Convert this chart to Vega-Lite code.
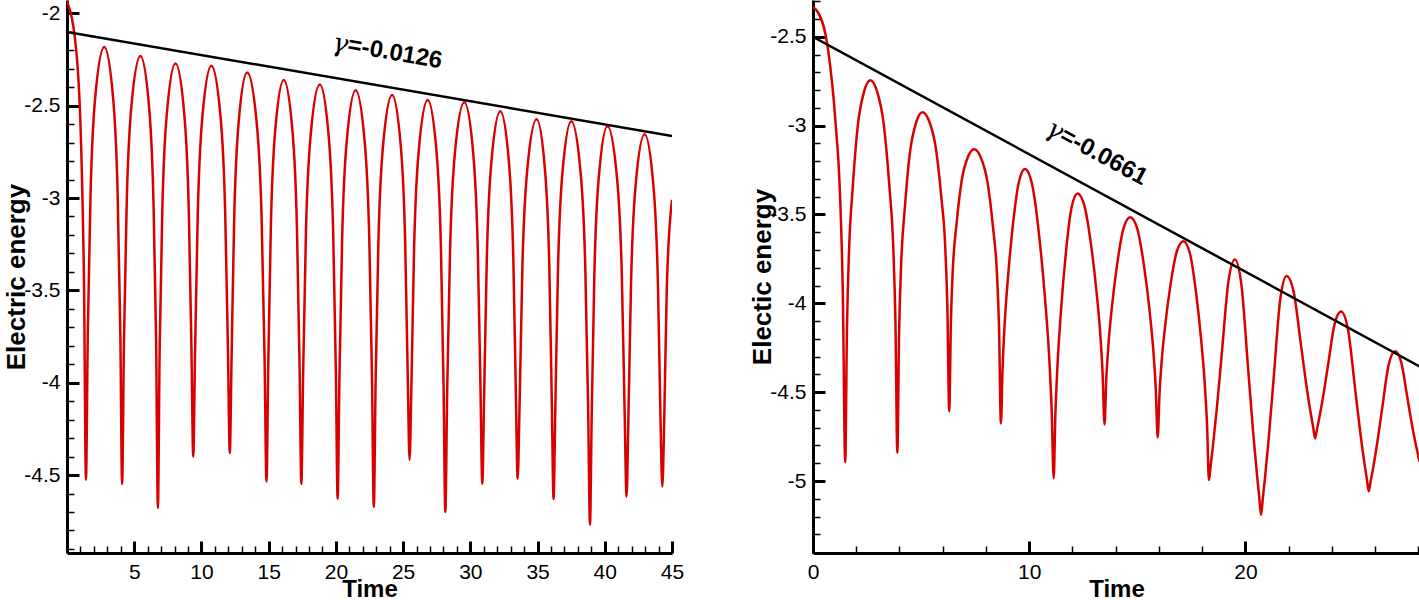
{
  "$schema": "https://vega.github.io/schema/vega-lite/v6.json",
  "padding": {"left": 3, "top": 0, "right": 0, "bottom": 0},
  "background": "white",
  "spacing": 65,
  "config": {
    "view": {"stroke": null},
    "font": "Liberation Sans",
    "axis": {
      "domainColor": "black", "domainWidth": 3, "tickColor": "black",
      "labelColor": "black", "labelFont": "Liberation Sans", "labelFontSize": 21,
      "titleFont": "Liberation Sans", "titleFontSize": 26, "titleFontWeight": "bold", "titleColor": "black",
      "grid": false, "labelOverlap": false, "labelFlush": false, "labelBound": false
    },
    "axisX": {"titleFontSize": 24}
  },
  "datasets": {
    "left": [
      {"t":0,"e":-1.935},{"t":0.705,"e":-2.215},{"t":1.058,"e":-2.735},{"t":1.269,"e":-3.485},{"t":1.41,"e":-4.525},
      {"t":1.546,"e":-3.732},{"t":1.75,"e":-2.982},{"t":2.09,"e":-2.462},{"t":2.77,"e":-2.182},
      {"t":3.435,"e":-2.462},{"t":3.768,"e":-2.982},{"t":3.967,"e":-3.732},{"t":4.10,"e":-4.549},
      {"t":4.236,"e":-3.781},{"t":4.44,"e":-3.031},{"t":4.78,"e":-2.511},{"t":5.46,"e":-2.231},
      {"t":6.11,"e":-2.511},{"t":6.435,"e":-3.031},{"t":6.63,"e":-3.781},{"t":6.76,"e":-4.679},
      {"t":6.891,"e":-3.822},{"t":7.087,"e":-3.072},{"t":7.415,"e":-2.552},{"t":8.07,"e":-2.272},
      {"t":8.73,"e":-2.552},{"t":9.06,"e":-3.072},{"t":9.258,"e":-3.822},{"t":9.39,"e":-4.399},
      {"t":9.525,"e":-3.834},{"t":9.727,"e":-3.084},{"t":10.065,"e":-2.564},{"t":10.74,"e":-2.284},
      {"t":11.425,"e":-2.564},{"t":11.768,"e":-3.084},{"t":11.973,"e":-3.834},{"t":12.11,"e":-4.381},
      {"t":12.239,"e":-3.871},{"t":12.432,"e":-3.121},{"t":12.755,"e":-2.601},{"t":13.40,"e":-2.321},
      {"t":14.12,"e":-2.601},{"t":14.48,"e":-3.121},{"t":14.696,"e":-3.871},{"t":14.84,"e":-4.535},
      {"t":14.968,"e":-3.911},{"t":15.16,"e":-3.161},{"t":15.48,"e":-2.641},{"t":16.12,"e":-2.361},
      {"t":16.775,"e":-2.641},{"t":17.103,"e":-3.161},{"t":17.299,"e":-3.911},{"t":17.43,"e":-4.549},
      {"t":17.567,"e":-3.936},{"t":17.772,"e":-3.186},{"t":18.115,"e":-2.666},{"t":18.80,"e":-2.386},
      {"t":19.465,"e":-2.666},{"t":19.798,"e":-3.186},{"t":19.997,"e":-3.936},{"t":20.13,"e":-4.628},
      {"t":20.264,"e":-3.967},{"t":20.465,"e":-3.217},{"t":20.80,"e":-2.697},{"t":21.47,"e":-2.417},
      {"t":22.145,"e":-2.697},{"t":22.483,"e":-3.217},{"t":22.685,"e":-3.967},{"t":22.82,"e":-4.673},
      {"t":22.956,"e":-3.992},{"t":23.16,"e":-3.242},{"t":23.50,"e":-2.722},{"t":24.18,"e":-2.442},
      {"t":24.83,"e":-2.722},{"t":25.155,"e":-3.242},{"t":25.35,"e":-3.992},{"t":25.48,"e":-4.417},
      {"t":25.615,"e":-4.02},{"t":25.817,"e":-3.27},{"t":26.155,"e":-2.75},{"t":26.83,"e":-2.47},
      {"t":27.485,"e":-2.75},{"t":27.813,"e":-3.27},{"t":28.009,"e":-4.02},{"t":28.14,"e":-4.70},
      {"t":28.281,"e":-4.032},{"t":28.492,"e":-3.282},{"t":28.845,"e":-2.762},{"t":29.55,"e":-2.482},
      {"t":30.22,"e":-2.762},{"t":30.555,"e":-3.282},{"t":30.756,"e":-4.032},{"t":30.89,"e":-4.547},
      {"t":31.024,"e":-4.08},{"t":31.225,"e":-3.33},{"t":31.56,"e":-2.81},{"t":32.23,"e":-2.53},
      {"t":32.875,"e":-2.81},{"t":33.198,"e":-3.33},{"t":33.391,"e":-4.08},{"t":33.52,"e":-4.52},
      {"t":33.661,"e":-4.124},{"t":33.872,"e":-3.374},{"t":34.225,"e":-2.854},{"t":34.93,"e":-2.574},
      {"t":35.56,"e":-2.854},{"t":35.875,"e":-3.374},{"t":36.064,"e":-4.124},{"t":36.19,"e":-4.63},
      {"t":36.322,"e":-4.134},{"t":36.52,"e":-3.384},{"t":36.85,"e":-2.864},{"t":37.51,"e":-2.584},
      {"t":38.205,"e":-2.864},{"t":38.553,"e":-3.384},{"t":38.761,"e":-4.134},{"t":38.90,"e":-4.769},
      {"t":39.03,"e":-4.161},{"t":39.225,"e":-3.411},{"t":39.55,"e":-2.891},{"t":40.20,"e":-2.611},
      {"t":40.91,"e":-2.891},{"t":41.265,"e":-3.411},{"t":41.478,"e":-4.161},{"t":41.62,"e":-4.616},
      {"t":41.754,"e":-4.205},{"t":41.955,"e":-3.455},{"t":42.29,"e":-2.935},{"t":42.96,"e":-2.655},
      {"t":43.62,"e":-2.935},{"t":43.95,"e":-3.455},{"t":44.148,"e":-4.205},{"t":44.28,"e":-4.562},
      {"t":44.414,"e":-4.23},{"t":44.615,"e":-3.48},{"t":45.0,"e":-3.01}
    ],
    "right": [
      {"t":0,"e":-2.333},{"t":0.26,"e":-2.368},{"t":0.57,"e":-2.481},{"t":0.80,"e":-2.669},{"t":0.96,"e":-2.857},
      {"t":1.08,"e":-3.042},{"t":1.19,"e":-3.232},{"t":1.26,"e":-3.42},{"t":1.38,"e":-3.95},{"t":1.49,"e":-4.894},
      {"t":1.571,"e":-4.142},{"t":1.664,"e":-3.712},{"t":1.838,"e":-3.346},{"t":2.07,"e":-3.002},{"t":2.36,"e":-2.809},{"t":2.65,"e":-2.744},
      {"t":2.963,"e":-2.807},{"t":3.275,"e":-2.996},{"t":3.525,"e":-3.331},{"t":3.713,"e":-3.688},{"t":3.813,"e":-4.107},{"t":3.90,"e":-4.841},
      {"t":3.981,"e":-4.170},{"t":4.074,"e":-3.787},{"t":4.248,"e":-3.461},{"t":4.48,"e":-3.154},{"t":4.77,"e":-2.982},{"t":5.06,"e":-2.924},
      {"t":5.37,"e":-2.974},{"t":5.68,"e":-3.126},{"t":5.928,"e":-3.395},{"t":6.114,"e":-3.681},{"t":6.213,"e":-4.017},{"t":6.30,"e":-4.606},
      {"t":6.38,"e":-4.090},{"t":6.472,"e":-3.796},{"t":6.645,"e":-3.545},{"t":6.875,"e":-3.310},{"t":7.162,"e":-3.177},{"t":7.45,"e":-3.133},
      {"t":7.76,"e":-3.179},{"t":8.07,"e":-3.318},{"t":8.318,"e":-3.565},{"t":8.504,"e":-3.827},{"t":8.603,"e":-4.136},{"t":8.69,"e":-4.676},
      {"t":8.768,"e":-4.361},{"t":8.856,"e":-4.132},{"t":9.023,"e":-3.845},{"t":9.245,"e":-3.559},{"t":9.522,"e":-3.316},{"t":9.80,"e":-3.244},
      {"t":10.133,"e":-3.331},{"t":10.465,"e":-3.627},{"t":10.731,"e":-3.975},{"t":10.931,"e":-4.323},{"t":11.037,"e":-4.601},{"t":11.13,"e":-4.984},
      {"t":11.207,"e":-4.632},{"t":11.295,"e":-4.375},{"t":11.46,"e":-4.055},{"t":11.68,"e":-3.734},{"t":11.955,"e":-3.462},{"t":12.23,"e":-3.382},
      {"t":12.543,"e":-3.447},{"t":12.855,"e":-3.668},{"t":13.105,"e":-3.928},{"t":13.293,"e":-4.188},{"t":13.393,"e":-4.396},{"t":13.48,"e":-4.682},
      {"t":13.563,"e":-4.425},{"t":13.658,"e":-4.239},{"t":13.837,"e":-4.005},{"t":14.075,"e":-3.772},{"t":14.372,"e":-3.573},{"t":14.67,"e":-3.515},
      {"t":14.988,"e":-3.577},{"t":15.305,"e":-3.788},{"t":15.559,"e":-4.036},{"t":15.75,"e":-4.284},{"t":15.851,"e":-4.482},{"t":15.94,"e":-4.755},
      {"t":16.023,"e":-4.512},{"t":16.118,"e":-4.335},{"t":16.297,"e":-4.114},{"t":16.535,"e":-3.893},{"t":16.832,"e":-3.705},{"t":17.13,"e":-3.650},
      {"t":17.425,"e":-3.717},{"t":17.72,"e":-3.946},{"t":17.956,"e":-4.214},{"t":18.133,"e":-4.483},{"t":18.227,"e":-4.698},{"t":18.31,"e":-4.994},
      {"t":18.394,"e":-4.907},{"t":18.49,"e":-4.808},{"t":18.67,"e":-4.597},{"t":18.91,"e":-4.275},{"t":19.21,"e":-3.878},{"t":19.51,"e":-3.754},
      {"t":19.813,"e":-3.898},{"t":20.115,"e":-4.357},{"t":20.357,"e":-4.730},{"t":20.539,"e":-4.975},{"t":20.635,"e":-5.089},{"t":20.72,"e":-5.19},
      {"t":20.803,"e":-5.096},{"t":20.897,"e":-4.988},{"t":21.074,"e":-4.760},{"t":21.31,"e":-4.410},{"t":21.605,"e":-3.980},{"t":21.90,"e":-3.846},
      {"t":22.23,"e":-3.937},{"t":22.56,"e":-4.230},{"t":22.824,"e":-4.468},{"t":23.022,"e":-4.623},{"t":23.128,"e":-4.696},{"t":23.22,"e":-4.76},
      {"t":23.304,"e":-4.710},{"t":23.40,"e":-4.653},{"t":23.58,"e":-4.532},{"t":23.82,"e":-4.346},{"t":24.12,"e":-4.117},{"t":24.42,"e":-4.046},
      {"t":24.74,"e":-4.147},{"t":25.06,"e":-4.471},{"t":25.316,"e":-4.734},{"t":25.508,"e":-4.906},{"t":25.61,"e":-4.987},{"t":25.70,"e":-5.058},
      {"t":25.785,"e":-5.003},{"t":25.883,"e":-4.940},{"t":26.066,"e":-4.806},{"t":26.31,"e":-4.601},{"t":26.615,"e":-4.349},{"t":26.92,"e":-4.27},
      {"t":27.203,"e":-4.332},{"t":27.485,"e":-4.530},{"t":27.711,"e":-4.692},{"t":27.881,"e":-4.797},{"t":27.971,"e":-4.847},{"t":28.05,"e":-4.89},{"t":28.07,"e":-4.885}
    ],
    "leftFit": [{"t":0,"e":-2.101},{"t":45,"e":-2.664}],
    "rightFit": [{"t":0,"e":-2.5},{"t":28.07,"e":-4.356}],
    "leftNote": [{"t":20.9,"e":-2.1715,"sym":"γ","val":"=-0.0126"}],
    "rightNote": [{"t":11.5,"e":-3.047,"sym":"γ","val":"=-0.0661"}]
  },
  "hconcat": [
    {
      "width": 605,
      "height": 553,
      "resolve": {"axis": {"x": "independent", "y": "independent"}},
      "layer": [
        {
          "data": {"name": "left"},
          "mark": {"type": "line", "color": "#d80000", "strokeWidth": 2.5, "interpolate": "monotone", "clip": true},
          "encoding": {
            "x": {"field": "t", "type": "quantitative",
              "scale": {"domain": [0, 45], "nice": false, "zero": false},
              "axis": {"orient": "bottom", "title": "Time", "values": [5,10,15,20,25,30,35,40,45],
                "labelExpr": "'' + datum.value", "ticks": false, "tickSize": 0,
                "labelPadding": 8.5, "titlePadding": -5}},
            "y": {"field": "e", "type": "quantitative",
              "scale": {"domain": [-4.922, -1.928], "nice": false, "zero": false},
              "axis": {"orient": "left", "title": "Electric energy", "values": [-4.5,-4,-3.5,-3,-2.5,-2],
                "labelExpr": "'' + datum.value", "ticks": false, "tickSize": 0,
                "labelPadding": 7, "titlePadding": -6}}
          }
        },
        {
          "data": {"name": "leftFit"},
          "mark": {"type": "line", "color": "black", "strokeWidth": 2.5, "clip": true},
          "encoding": {
            "x": {"field": "t", "type": "quantitative",
              "axis": {"orient": "top", "offset": -553, "title": null, "labels": false, "domain": false,
                "values": [5,10,15,20,25,30,35,40,45], "tickSize": 12, "tickWidth": 3}},
            "y": {"field": "e", "type": "quantitative",
              "axis": {"orient": "right", "offset": -605, "title": null, "labels": false, "domain": false,
                "values": [-4.5,-4,-3.5,-3,-2.5,-2], "tickSize": 12, "tickWidth": 3}}
          }
        },
        {
          "data": {"name": "leftNote"},
          "mark": {"type": "text", "angle": 10, "fontSize": 26, "fontStyle": "italic", "font": "DejaVu Serif", "align": "right", "baseline": "middle", "color": "black"},
          "encoding": {
            "x": {"field": "t", "type": "quantitative",
              "axis": {"orient": "top", "offset": -553, "title": null, "labels": false, "domain": false,
                "values": [1,2,3,4,6,7,8,9,11,12,13,14,16,17,18,19,21,22,23,24,26,27,28,29,31,32,33,34,36,37,38,39,41,42,43,44], "tickSize": 7, "tickWidth": 1.5}},
            "y": {"field": "e", "type": "quantitative",
              "axis": {"orient": "right", "offset": -605, "title": null, "labels": false, "domain": false,
                "values": [-4.9,-4.8,-4.7,-4.6,-4.4,-4.3,-4.2,-4.1,-3.9,-3.8,-3.7,-3.6,-3.4,-3.3,-3.2,-3.1,-2.9,-2.8,-2.7,-2.6,-2.4,-2.3,-2.2,-2.1], "tickSize": 7, "tickWidth": 1.5}},
            "text": {"field": "sym"}
          }
        },
        {
          "data": {"name": "leftNote"},
          "mark": {"type": "text", "angle": 10, "fontSize": 24, "fontWeight": "bold", "font": "Liberation Sans", "align": "left", "baseline": "middle", "color": "black"},
          "encoding": {
            "x": {"field": "t", "type": "quantitative", "axis": null},
            "y": {"field": "e", "type": "quantitative", "axis": null},
            "text": {"field": "val"}
          }
        }
      ]
    },
    {
      "width": 607,
      "height": 553,
      "resolve": {"axis": {"x": "independent", "y": "independent"}},
      "layer": [
        {
          "data": {"name": "right"},
          "mark": {"type": "line", "color": "#d80000", "strokeWidth": 2.5, "interpolate": "monotone", "clip": true},
          "encoding": {
            "x": {"field": "t", "type": "quantitative",
              "scale": {"domain": [0, 28.07], "nice": false, "zero": false},
              "axis": {"orient": "bottom", "title": "Time", "values": [0,10,20],
                "labelExpr": "'' + datum.value", "ticks": false, "tickSize": 0,
                "labelPadding": 8.5, "titlePadding": -5}},
            "y": {"field": "e", "type": "quantitative",
              "scale": {"domain": [-5.405, -2.293], "nice": false, "zero": false},
              "axis": {"orient": "left", "title": "Electic energy", "values": [-5,-4.5,-4,-3.5,-3,-2.5],
                "labelExpr": "'' + datum.value", "ticks": false, "tickSize": 0,
                "labelPadding": 7, "titlePadding": -6}}
          }
        },
        {
          "data": {"name": "rightFit"},
          "mark": {"type": "line", "color": "black", "strokeWidth": 2.5, "clip": true},
          "encoding": {
            "x": {"field": "t", "type": "quantitative",
              "axis": {"orient": "top", "offset": -553, "title": null, "labels": false, "domain": false,
                "values": [0,10,20], "tickSize": 12, "tickWidth": 3}},
            "y": {"field": "e", "type": "quantitative",
              "axis": {"orient": "right", "offset": -607, "title": null, "labels": false, "domain": false,
                "values": [-5,-4.5,-4,-3.5,-3,-2.5], "tickSize": 12, "tickWidth": 3}}
          }
        },
        {
          "data": {"name": "rightNote"},
          "mark": {"type": "text", "angle": 28.5, "fontSize": 26, "fontStyle": "italic", "font": "DejaVu Serif", "align": "right", "baseline": "middle", "color": "black"},
          "encoding": {
            "x": {"field": "t", "type": "quantitative",
              "axis": {"orient": "top", "offset": -553, "title": null, "labels": false, "domain": false,
                "values": [2,4,6,8,12,14,16,18,22,24,26,28], "tickSize": 7, "tickWidth": 1.5}},
            "y": {"field": "e", "type": "quantitative",
              "axis": {"orient": "right", "offset": -607, "title": null, "labels": false, "domain": false,
                "values": [-5.3,-5.2,-5.1,-4.9,-4.8,-4.7,-4.6,-4.4,-4.3,-4.2,-4.1,-3.9,-3.8,-3.7,-3.6,-3.4,-3.3,-3.2,-3.1,-2.9,-2.8,-2.7,-2.6,-2.4,-2.3], "tickSize": 7, "tickWidth": 1.5}},
            "text": {"field": "sym"}
          }
        },
        {
          "data": {"name": "rightNote"},
          "mark": {"type": "text", "angle": 28.5, "fontSize": 24, "fontWeight": "bold", "font": "Liberation Sans", "align": "left", "baseline": "middle", "color": "black"},
          "encoding": {
            "x": {"field": "t", "type": "quantitative", "axis": null},
            "y": {"field": "e", "type": "quantitative", "axis": null},
            "text": {"field": "val"}
          }
        }
      ]
    }
  ]
}
